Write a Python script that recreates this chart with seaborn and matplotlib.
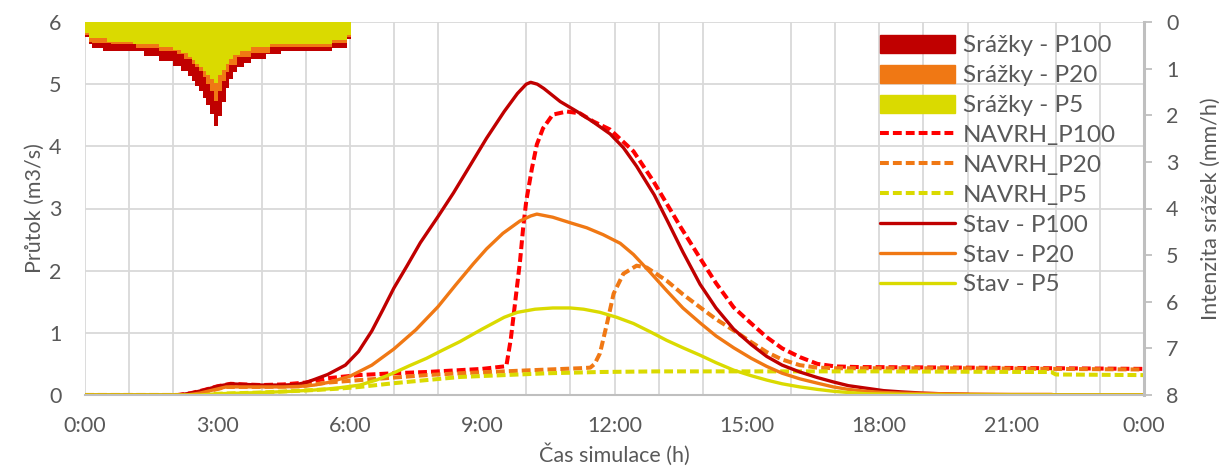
import numpy as np
import pandas as pd
import matplotlib
matplotlib.use("Agg")
import matplotlib.pyplot as plt
import seaborn as sns
from matplotlib.patches import Patch
from matplotlib.lines import Line2D
from matplotlib.ticker import FixedLocator

# ---------------- data ----------------
# rainfall intensity (mm/h), 5-minute steps from 0:00 to 6:00
rain_step_h = 5 / 60
rain_p100 = [0.30, 0.45, 0.54, 0.54, 0.54, 0.60, 0.60, 0.60, 0.60, 0.60, 0.60, 0.60,
             0.60, 0.60, 0.60, 0.60, 0.71, 0.71, 0.71, 0.71, 0.82, 0.82, 0.82, 0.82,
             0.92, 0.92, 1.03, 1.03, 1.14, 1.24, 1.35, 1.46, 1.60, 1.75, 1.95, 2.20,
             2.00, 1.70, 1.40, 1.20, 1.05, 0.95, 0.95, 0.85, 0.85, 0.77, 0.77, 0.77,
             0.77, 0.67, 0.67, 0.67, 0.67, 0.60, 0.60, 0.60, 0.60, 0.60, 0.60, 0.60,
             0.60, 0.60, 0.60, 0.60, 0.60, 0.60, 0.60, 0.54, 0.54, 0.54, 0.54, 0.35]
rain_p20 = [0.25, 0.40, 0.43, 0.43, 0.43, 0.43, 0.43, 0.45, 0.45, 0.45, 0.45, 0.45,
            0.45, 0.45, 0.54, 0.54, 0.54, 0.54, 0.54, 0.54, 0.60, 0.60, 0.60, 0.60,
            0.60, 0.67, 0.67, 0.77, 0.77, 0.87, 0.95, 1.03, 1.15, 1.30, 1.45, 1.67,
            1.45, 1.25, 1.05, 0.90, 0.90, 0.72, 0.72, 0.72, 0.72, 0.64, 0.64, 0.64,
            0.64, 0.64, 0.52, 0.52, 0.52, 0.52, 0.52, 0.52, 0.52, 0.52, 0.52, 0.52,
            0.52, 0.52, 0.52, 0.52, 0.52, 0.52, 0.52, 0.43, 0.43, 0.43, 0.43, 0.30]
rain_p5 = [0.22, 0.32, 0.32, 0.32, 0.32, 0.32, 0.40, 0.40, 0.40, 0.40, 0.40, 0.40,
           0.40, 0.45, 0.45, 0.45, 0.45, 0.45, 0.45, 0.45, 0.52, 0.52, 0.52, 0.52,
           0.58, 0.58, 0.65, 0.65, 0.72, 0.80, 0.88, 0.95, 1.03, 1.12, 1.20, 1.29,
           1.12, 1.00, 0.88, 0.78, 0.68, 0.68, 0.60, 0.60, 0.60, 0.52, 0.52, 0.52,
           0.52, 0.52, 0.44, 0.44, 0.44, 0.44, 0.44, 0.44, 0.44, 0.44, 0.44, 0.44,
           0.44, 0.44, 0.44, 0.44, 0.44, 0.44, 0.44, 0.36, 0.36, 0.36, 0.36, 0.25]

# discharge (m3/s) - existing state
stav_p100_t = [0, 2.1, 2.4, 2.7, 3.0, 3.3, 3.6, 4.0, 4.5, 4.8, 5.0, 5.2, 5.5, 5.9, 6.2,
               6.5, 6.75, 7.0, 7.3, 7.6, 8.0, 8.35, 8.7, 9.1, 9.5, 9.8, 10.0, 10.1,
               10.25, 10.4, 10.77, 11.15, 11.5, 11.9, 12.2, 12.5, 12.9, 13.2, 13.55,
               13.94, 14.3, 14.7, 15.1, 15.45, 15.8, 16.2, 16.6, 16.96, 17.3, 17.7,
               18.1, 18.5, 19.0, 19.4, 20.0, 20.1, 24]
stav_p100_q = [0, 0, 0.03, 0.08, 0.14, 0.18, 0.17, 0.16, 0.16, 0.17, 0.20, 0.25, 0.33,
               0.48, 0.70, 1.03, 1.37, 1.72, 2.08, 2.45, 2.87, 3.25, 3.66, 4.13, 4.56,
               4.85, 5.00, 5.03, 5.00, 4.93, 4.72, 4.56, 4.40, 4.20, 3.98, 3.68, 3.22,
               2.80, 2.30, 1.78, 1.40, 1.06, 0.81, 0.62, 0.48, 0.37, 0.28, 0.21, 0.15,
               0.11, 0.07, 0.05, 0.03, 0.02, 0.01, 0, 0]

stav_p20_t = [0, 2.3, 2.6, 2.9, 3.2, 3.6, 4.0, 4.5, 4.9, 5.2, 5.5, 6.0, 6.5, 7.0, 7.5,
              8.0, 8.4, 8.8, 9.1, 9.47, 9.86, 10.1, 10.24, 10.6, 11.0, 11.37, 11.74,
              12.13, 12.43, 12.8, 13.18, 13.55, 13.94, 14.3, 14.7, 15.1, 15.45, 15.8,
              16.2, 16.6, 16.96, 17.3, 17.7, 18.1, 18.5, 19.5, 21.0, 21.9, 22.0, 24]
stav_p20_q = [0, 0, 0.03, 0.08, 0.13, 0.13, 0.13, 0.13, 0.14, 0.16, 0.20, 0.30, 0.48,
              0.74, 1.05, 1.42, 1.77, 2.11, 2.35, 2.60, 2.80, 2.88, 2.91, 2.86, 2.77,
              2.69, 2.58, 2.44, 2.26, 1.98, 1.68, 1.40, 1.16, 0.95, 0.76, 0.59, 0.46,
              0.35, 0.26, 0.19, 0.13, 0.09, 0.06, 0.04, 0.03, 0.02, 0.01, 0.01, 0, 0]

stav_p5_t = [0, 2.6, 3.0, 3.5, 4.0, 4.7, 5.2, 5.7, 6.23, 6.6, 6.98, 7.35, 7.74, 8.1,
             8.5, 9.0, 9.5, 9.8, 10.2, 10.6, 11.0, 11.3, 11.67, 12.05, 12.43, 12.8,
             13.18, 13.55, 13.94, 14.3, 14.7, 15.1, 15.45, 15.8, 16.2, 16.6, 16.96,
             17.3, 17.7, 18.5, 19.5, 24]
stav_p5_q = [0, 0, 0.02, 0.03, 0.04, 0.06, 0.08, 0.11, 0.16, 0.24, 0.35, 0.47, 0.59,
             0.72, 0.86, 1.06, 1.25, 1.33, 1.38, 1.40, 1.40, 1.38, 1.33, 1.25, 1.15,
             1.02, 0.88, 0.76, 0.64, 0.52, 0.40, 0.31, 0.24, 0.18, 0.13, 0.09, 0.06,
             0.04, 0.02, 0.01, 0, 0]

# discharge (m3/s) - design (NAVRH)
navrh_p100_t = [0, 2.1, 2.4, 2.7, 3.0, 3.3, 3.6, 4.0, 4.5, 5.0, 5.3, 5.5, 6.2, 7.0,
                7.74, 8.5, 9.0, 9.5, 9.55, 9.65, 9.75, 9.86, 9.93, 10.0, 10.13, 10.24,
                10.38, 10.6, 10.92, 11.22, 11.52, 11.9, 12.43, 12.88, 13.5, 13.94,
                14.3, 14.7, 15.1, 15.45, 15.8, 16.2, 16.6, 17.0, 17.5, 20.0, 24]
navrh_p100_q = [0, 0, 0.03, 0.08, 0.14, 0.18, 0.17, 0.16, 0.17, 0.20, 0.24, 0.27,
                0.32, 0.35, 0.37, 0.40, 0.42, 0.46, 0.47, 0.90, 1.50, 2.16, 2.69, 3.12,
                3.65, 4.03, 4.29, 4.51, 4.56, 4.53, 4.40, 4.27, 3.92, 3.44, 2.70, 2.20,
                1.80, 1.41, 1.15, 0.93, 0.75, 0.61, 0.50, 0.46, 0.45, 0.44, 0.42]

navrh_p20_t = [0, 2.3, 2.6, 2.9, 3.2, 4.0, 4.9, 5.5, 6.23, 7.0, 7.74, 8.5, 9.5, 10.5,
               11.2, 11.45, 11.55, 11.67, 11.83, 11.98, 12.2, 12.5, 12.73, 13.18,
               13.55, 13.94, 14.3, 14.7, 15.1, 15.45, 15.8, 16.2, 16.6, 17.0, 20.0, 24]
navrh_p20_q = [0, 0, 0.03, 0.08, 0.13, 0.13, 0.14, 0.20, 0.24, 0.28, 0.32, 0.35, 0.38,
               0.41, 0.43, 0.44, 0.50, 0.67, 1.15, 1.63, 1.95, 2.08, 2.05, 1.84, 1.62,
               1.41, 1.22, 1.04, 0.85, 0.69, 0.57, 0.48, 0.44, 0.43, 0.43, 0.41]

navrh_p5_t = [0, 2.6, 3.0, 4.0, 5.2, 5.7, 6.23, 7.0, 7.74, 8.5, 9.5, 10.5, 11.67, 13.0,
              15.0, 18.0, 21.5, 21.9, 22.0, 24]
navrh_p5_q = [0, 0, 0.02, 0.04, 0.08, 0.10, 0.13, 0.19, 0.24, 0.29, 0.32, 0.35, 0.37,
              0.38, 0.38, 0.38, 0.37, 0.37, 0.33, 0.32]

x_tick_hours = [0, 3, 6, 9, 12, 15, 18, 21, 24]
x_tick_labels = ["0:00", "3:00", "6:00", "9:00", "12:00", "15:00", "18:00", "21:00", "0:00"]
grid_hours = [0, 1, 2, 4, 5, 6, 7, 8, 10, 11, 12, 13, 14, 16, 17, 18, 19, 20, 22, 23, 24]

# ---------------- styling ----------------
C100 = "#C00000"
C20 = "#F07814"
C5 = "#DADA00"
CN100 = "#FF0000"
TXT = "#595959"
GRID = "#D9D9D9"
AX = "#BFBFBF"

sns.set_theme(style="white")
plt.rcParams["font.family"] = ["Lato", "DejaVu Sans"]
FS = 15.5
LFS = 17.5

fig = plt.figure(figsize=(12.2, 4.7), dpi=100)
ax = fig.add_axes([85 / 1220, 75 / 470, 1059 / 1220, 373 / 470])
ax2 = ax.twinx()

# rainfall (right axis, inverted)
rain_t = np.arange(len(rain_p100)) * rain_step_h
for vals, col in [(rain_p100, C100), (rain_p20, C20), (rain_p5, C5)]:
    ax2.bar(rain_t, vals, width=rain_step_h, align="edge", color=col,
            edgecolor=col, linewidth=0.6, antialiased=False)
ax2.set_ylim(8, 0)

# discharge lines
SOL = 2.4
DSH = 2.9
dash = (0, (2.2, 1.0))
series = [
    (navrh_p100_t, navrh_p100_q, CN100, dash, DSH),
    (navrh_p20_t, navrh_p20_q, C20, dash, DSH),
    (navrh_p5_t, navrh_p5_q, C5, dash, DSH),
    (stav_p100_t, stav_p100_q, C100, "-", SOL),
    (stav_p20_t, stav_p20_q, C20, "-", SOL),
    (stav_p5_t, stav_p5_q, C5, "-", SOL),
]
for t, q, col, ls, lw in series:
    df = pd.DataFrame({"t": t, "q": q})
    sns.lineplot(data=df, x="t", y="q", ax=ax, color=col, linestyle=ls,
                 linewidth=lw, estimator=None)

ax.set_xlim(0, 24)
ax.set_ylim(0, 6)
ax.set_xticks(x_tick_hours)
ax.set_xticklabels(x_tick_labels)
ax.xaxis.set_minor_locator(FixedLocator(grid_hours))
ax.xaxis.remove_overlapping_locs = False
ax.set_yticks(range(0, 7))
ax.grid(False)
ax.grid(True, which="minor", axis="x", color=GRID, linewidth=1.3)
ax.grid(True, which="major", axis="y", color=GRID, linewidth=1.3)
ax.set_axisbelow(True)
ax.tick_params(axis="x", which="both", length=0, pad=15, labelsize=FS, colors=TXT)
ax.tick_params(axis="y", length=0, pad=17, labelsize=FS, colors=TXT)
for s in ["left", "top", "right"]:
    ax.spines[s].set_visible(False)
ax.spines["bottom"].set_color(AX)
ax.spines["bottom"].set_linewidth(1.5)
ax.set_xlabel("Čas simulace (h)", fontsize=FS, color=TXT, labelpad=5)
ax.set_ylabel("Průtok (m3/s)", fontsize=FS, color=TXT, labelpad=3)

ax2.set_yticks(range(0, 9))
ax2.grid(False)
for s in ["left", "top", "bottom"]:
    ax2.spines[s].set_visible(False)
ax2.spines["right"].set_color(AX)
ax2.spines["right"].set_linewidth(2.2)
ax2.tick_params(axis="y", direction="out", length=6, width=1.3, color=AX,
                pad=10, labelsize=FS, labelcolor=TXT)
ax2.set_ylabel("Intenzita srážek (mm/h)", fontsize=FS, color=TXT, labelpad=16)

handles = [
    Patch(facecolor=C100, edgecolor=C100, label="Srážky - P100"),
    Patch(facecolor=C20, edgecolor=C20, label="Srážky - P20"),
    Patch(facecolor=C5, edgecolor=C5, label="Srážky - P5"),
    Line2D([], [], color=CN100, linestyle=dash, linewidth=DSH, label="NAVRH_P100"),
    Line2D([], [], color=C20, linestyle=dash, linewidth=DSH, label="NAVRH_P20"),
    Line2D([], [], color=C5, linestyle=dash, linewidth=DSH, label="NAVRH_P5"),
    Line2D([], [], color=C100, linestyle="-", linewidth=SOL, label="Stav - P100"),
    Line2D([], [], color=C20, linestyle="-", linewidth=SOL, label="Stav - P20"),
    Line2D([], [], color=C5, linestyle="-", linewidth=SOL, label="Stav - P5"),
]
leg = ax2.legend(handles=handles, loc="upper left",
                 bbox_to_anchor=(880 / 1220, 1 - 35 / 470),
                 bbox_transform=fig.transFigure, frameon=False, fontsize=LFS,
                 handlelength=3.1, handleheight=0.75, handletextpad=0.3,
                 labelspacing=0.35, borderpad=0, borderaxespad=0)
for txt in leg.get_texts():
    txt.set_color(TXT)

fig.savefig("out.png", dpi=100)
